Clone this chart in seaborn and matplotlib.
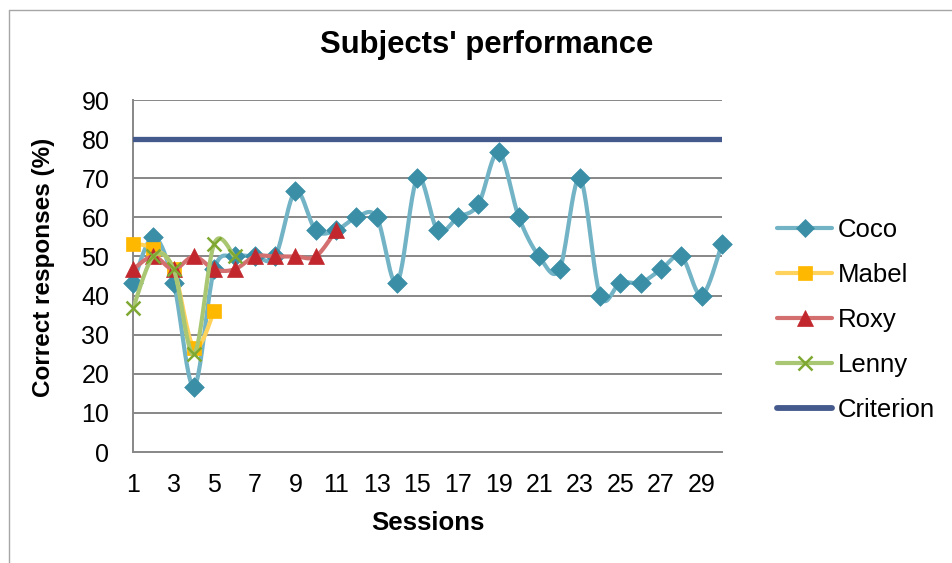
import numpy as np
import pandas as pd
import matplotlib
matplotlib.use("Agg")
import matplotlib.pyplot as plt
from matplotlib.lines import Line2D
import seaborn as sns

# Session results (% correct) per subject
coco = [43.3, 55.0, 43.3, 16.7, 46.7, 50.0, 50.0, 50.0, 66.7, 56.7,
        56.7, 60.0, 60.0, 43.3, 70.0, 56.7, 60.0, 63.3, 76.7, 60.0,
        50.0, 46.7, 70.0, 40.0, 43.3, 43.3, 46.7, 50.0, 40.0, 53.3]
mabel = [53.3, 52.0, 46.7, 26.7, 36.0]
roxy = [46.7, 50.0, 46.7, 50.0, 46.7, 46.7, 50.0, 50.0, 50.0, 50.0, 56.7]
lenny = [36.7, 50.0, 46.7, 25.0, 53.3, 50.0]
criterion = 80.0
n_sessions = 30

x_ticks = list(range(1, n_sessions + 1, 2))
y_ticks = list(range(0, 91, 10))

sns.set_style("white")
plt.rcParams["font.family"] = ["Liberation Sans", "DejaVu Sans"]
plt.rcParams["text.color"] = "black"
plt.rcParams["axes.labelcolor"] = "black"

series = [
    ("Coco", coco, "#72B3C6", "#3A8EA6", "D", 10.0, True),
    ("Mabel", mabel, "#FFD25C", "#FFB800", "s", 10.5, True),
    ("Roxy", roxy, "#D46F6F", "#C1272D", "^", 11.5, True),
    ("Lenny", lenny, "#A9C772", "#7FA832", "x", 10.0, False),
]


def smooth(xs, ys, steps=24):
    """Cubic Bezier smoothing through every point (Catmull-Rom control points)."""
    xs = np.asarray(xs, float)
    ys = np.asarray(ys, float)
    p = np.column_stack([xs, ys])
    n = len(p)
    out = []
    t = np.linspace(0, 1, steps)[:, None]
    for i in range(n - 1):
        p0 = p[max(i - 1, 0)]
        p1 = p[i]
        p2 = p[i + 1]
        p3 = p[min(i + 2, n - 1)]
        c1 = p1 + (p2 - p0) / 6.0
        c2 = p2 - (p3 - p1) / 6.0
        seg = ((1 - t) ** 3) * p1 + 3 * ((1 - t) ** 2) * t * c1 \
            + 3 * (1 - t) * t ** 2 * c2 + t ** 3 * p2
        out.append(seg if i == 0 else seg[1:])
    pts = np.vstack(out)
    return pts[:, 0], pts[:, 1]


fig = plt.figure(figsize=(9.52, 5.63), dpi=100)
ax = fig.add_axes([133 / 952, 1 - 452 / 563, (722 - 133) / 952, (452 - 100) / 563])

grid_col = "#878787"
for yv in y_ticks[1:]:
    ax.axhline(yv, color=grid_col, lw=1.4, zorder=1)

legend_handles = []
z = 3
for name, vals, lcol, mcol, mk, ms, filled in series:
    sess = np.arange(1, len(vals) + 1)
    sx, sy = smooth(sess, vals)
    curve = pd.DataFrame({"session": sx, "value": sy})
    sns.lineplot(data=curve, x="session", y="value", ax=ax, color=lcol, lw=3.0,
                 sort=False, estimator=None, zorder=z, solid_capstyle="round")
    pts = pd.DataFrame({"session": sess, "value": vals})
    if filled:
        sns.scatterplot(data=pts, x="session", y="value", ax=ax, marker=mk,
                        s=ms ** 2, color=mcol, edgecolor=mcol, linewidth=0.5,
                        zorder=z + 1, clip_on=False)
    else:
        sns.scatterplot(data=pts, x="session", y="value", ax=ax, marker=mk,
                        s=ms ** 2, color=mcol, linewidth=1.8, zorder=z + 1,
                        clip_on=False)
    z += 2
    legend_handles.append(Line2D([0], [0], color=lcol, lw=3.0, marker=mk,
                                 markersize=ms * 0.95, markerfacecolor=mcol,
                                 markeredgecolor=mcol,
                                 markeredgewidth=1.8 if not filled else 0.5))

crit_df = pd.DataFrame({"session": [1, n_sessions], "value": [criterion, criterion]})
sns.lineplot(data=crit_df, x="session", y="value", ax=ax, color="#44598C", lw=3.8,
             estimator=None, zorder=z + 2)
legend_handles.append(Line2D([0], [0], color="#44598C", lw=4.2,
                             solid_capstyle="round"))

ax.set_xlim(1, n_sessions)
ax.set_ylim(0, 90)
ax.set_xticks(x_ticks)
ax.set_xticklabels([str(v) for v in x_ticks])
ax.set_yticks(y_ticks)
ax.set_yticklabels([str(v) for v in y_ticks])
ax.tick_params(axis="both", length=0, labelsize=18, colors="black")
ax.tick_params(axis="y", pad=17)
ax.tick_params(axis="x", pad=15)
for side in ["top", "right"]:
    ax.spines[side].set_visible(False)
for side in ["left", "bottom"]:
    ax.spines[side].set_color(grid_col)
    ax.spines[side].set_linewidth(1.4)

ax.set_xlabel("Sessions", fontsize=18.5, fontweight="bold", color="black")
ax.set_ylabel("Correct responses (%)", fontsize=17.5, fontweight="bold",
              color="black")
ax.xaxis.set_label_coords(0.5, -0.167)
ax.yaxis.set_label_coords(-0.132, 0.524)

fig.text(487 / 952, 1 - 45 / 563, "Subjects' performance", ha="center",
         va="center", fontsize=22.3, fontweight="bold", color="black")

leg = fig.legend(legend_handles, ["Coco", "Mabel", "Roxy", "Lenny", "Criterion"],
                 loc="center left", bbox_to_anchor=(759 / 952, 1 - 320 / 563),
                 frameon=False, fontsize=18.5, handlelength=2.15,
                 handletextpad=0.23, labelspacing=0.82, borderpad=0.2,
                 labelcolor="black")

# chart area frame (left and top edges visible)
fig.add_artist(Line2D([9 / 952, 9 / 952], [0, 1 - 10 / 563], color="#A6A6A6",
                      lw=1.0, transform=fig.transFigure))
fig.add_artist(Line2D([9 / 952, 1.0], [1 - 10 / 563, 1 - 10 / 563], color="#A6A6A6",
                      lw=1.0, transform=fig.transFigure))

fig.savefig("out.png", dpi=100)
